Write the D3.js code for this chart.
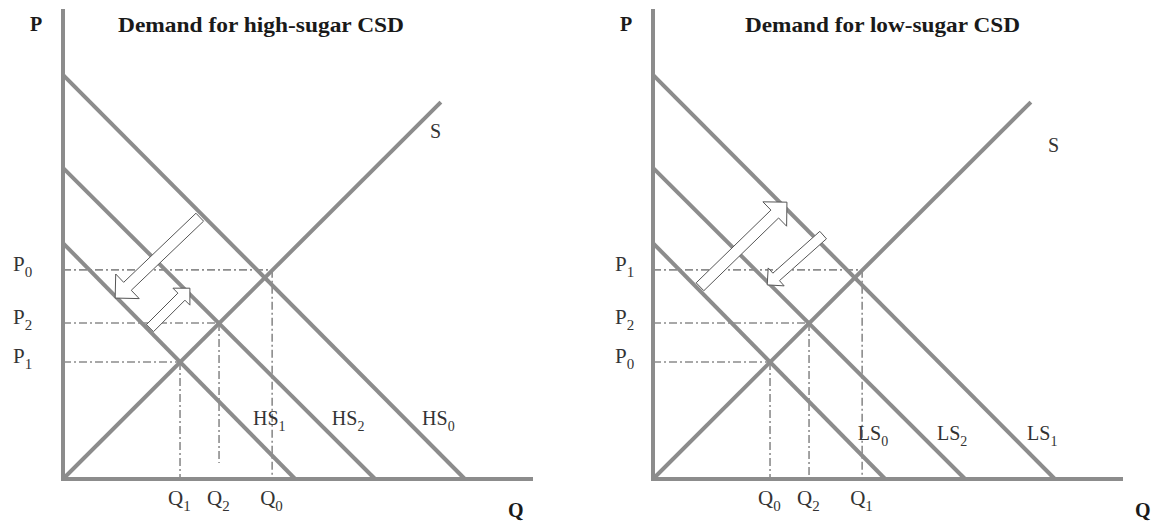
<!DOCTYPE html>
<html>
<head>
<meta charset="utf-8">
<script src="https://cdn.jsdelivr.net/npm/d3@7"></script>
<style>
  body { margin: 0; background: #fff; }
  svg { display: block; }
  text { font-family: "Liberation Serif", "Times New Roman", serif; fill: #333; }
  .title, .axis-name { font-weight: bold; fill: #1a1a1a; }
</style>
</head>
<body>
<div class="chart-container"></div>
<script>
var width = 1160, height = 523;

// chart values (both panels share one unit grid 0..10)
var titles = ['Demand for high-sugar CSD', 'Demand for low-sugar CSD'];
var curveNames = [['HS', 'HS', 'HS'], ['LS', 'LS', 'LS']];   // outer, middle, inner
var curveSubs = [['0', '2', '1'], ['1', '2', '0']];
var demandP = [8.6, 6.62, 5.02];     // price intercepts, outer -> inner
var demandQ = [8.55, 6.64, 4.94];    // quantity intercepts
var supplyEnd = [8.04, 8.02];
var eqQ = [4.45, 3.32, 2.49];        // equilibrium quantity, outer -> inner
var eqP = [4.45, 3.32, 2.49];        // equilibrium price
var priceSubs = [['0', '2', '1'], ['1', '2', '0']];
var qtySubs = [['0', '2', '1'], ['1', '2', '0']];
var dashBottom = [[0, 0.34, 0], [0, 0, 0]];
var arrowTail = [[[2.91, 5.57], [1.85, 3.21]], [[1.0, 4.09], [3.62, 5.19]]];
var arrowTip = [[[1.11, 3.85], [2.70, 4.06]], [[2.85, 5.89], [2.43, 4.13]]];
var arrowKind = ['big', 'small'];

// layout only
var layout = [
    {x0: 63, titleX: 118, titleLen: 286, pX: 13, sDx: -11, sDy: 36, labelP: 1.15},
    {x0: 653, titleX: 745, titleLen: 275, pX: 615, sDx: 17, sDy: 50, labelP: 0.83}
];
var arrowSize = {big: {w: 11, hl: 17, hw: 17}, small: {w: 10, hl: 12, hw: 12}};
var grey = '#8c8c8c';

var svg = d3.select('.chart-container')
    .append('svg')
    .attr('width', width)
    .attr('height', height);

function subText(sel, main, sub, size, subSize) {
    sel.style('font-size', size + 'px');
    sel.append('tspan').text(main);
    sel.append('tspan').attr('dy', 6).style('font-size', subSize + 'px').text(sub);
}

function arrowPath(t, h, s) {
    var dx = h[0] - t[0], dy = h[1] - t[1];
    var len = Math.sqrt(dx * dx + dy * dy);
    var ux = dx / len, uy = dy / len, nx = -uy, ny = ux;
    var bx = h[0] - ux * s.hl, by = h[1] - uy * s.hl;
    var pts = [
        [t[0] + nx * s.w / 2, t[1] + ny * s.w / 2],
        [bx + nx * s.w / 2, by + ny * s.w / 2],
        [bx + nx * s.hw, by + ny * s.hw],
        h,
        [bx - nx * s.hw, by - ny * s.hw],
        [bx - nx * s.w / 2, by - ny * s.w / 2],
        [t[0] - nx * s.w / 2, t[1] - ny * s.w / 2]
    ];
    return 'M' + pts.map(function(p) { return p.join(','); }).join('L') + 'Z';
}

layout.forEach(function(L, i) {
    var x = d3.scaleLinear().domain([0, 10]).range([L.x0, L.x0 + 470]);
    var y = d3.scaleLinear().domain([0, 10]).range([479, 9]);
    var g = svg.append('g');

    // dash-dot guide lines
    eqQ.forEach(function(q, k) {
        g.append('line')
            .attr('x1', x(0)).attr('y1', y(eqP[k]))
            .attr('x2', x(q)).attr('y2', y(eqP[k]))
            .attr('stroke', grey).attr('stroke-width', 1.6)
            .attr('stroke-dasharray', '8,3,2,3');
        g.append('line')
            .attr('x1', x(q)).attr('y1', y(eqP[k]))
            .attr('x2', x(q)).attr('y2', y(dashBottom[i][k]))
            .attr('stroke', grey).attr('stroke-width', 1.6)
            .attr('stroke-dasharray', '8,3,2,3');
    });

    // demand curves
    demandP.forEach(function(p, k) {
        g.append('line')
            .attr('x1', x(0)).attr('y1', y(p))
            .attr('x2', x(demandQ[k])).attr('y2', y(0))
            .attr('stroke', grey).attr('stroke-width', 4);
        var qAt = demandQ[k] * (1 - L.labelP / p);
        g.append('text')
            .attr('x', x(qAt) + 11).attr('y', y(L.labelP))
            .call(subText, curveNames[i][k], curveSubs[i][k], 20, 14);
    });

    // supply
    g.append('line')
        .attr('x1', x(0)).attr('y1', y(0))
        .attr('x2', x(supplyEnd[0])).attr('y2', y(supplyEnd[1]))
        .attr('stroke', grey).attr('stroke-width', 4);
    g.append('text')
        .attr('x', x(supplyEnd[0]) + L.sDx).attr('y', y(supplyEnd[1]) + L.sDy)
        .style('font-size', '20px').text('S');

    // axes
    g.append('line')
        .attr('x1', x(0)).attr('y1', y(10))
        .attr('x2', x(0)).attr('y2', y(0) + 2)
        .attr('stroke', grey).attr('stroke-width', 4);
    g.append('line')
        .attr('x1', x(0) - 2).attr('y1', y(0))
        .attr('x2', x(10)).attr('y2', y(0))
        .attr('stroke', grey).attr('stroke-width', 4);

    // arrows
    arrowTail[i].forEach(function(t, k) {
        var tp = [x(t[0]), y(t[1])];
        var hp = [x(arrowTip[i][k][0]), y(arrowTip[i][k][1])];
        g.append('path')
            .attr('d', arrowPath(tp, hp, arrowSize[arrowKind[k]]))
            .attr('fill', '#fff')
            .attr('stroke', '#555')
            .attr('stroke-width', 1);
    });

    // price / quantity labels
    eqP.forEach(function(p, k) {
        g.append('text')
            .attr('x', L.pX).attr('y', y(p) + 1)
            .call(subText, 'P', priceSubs[i][k], 21, 15);
        g.append('text')
            .attr('x', x(eqQ[k]) - 12).attr('y', 505)
            .call(subText, 'Q', qtySubs[i][k], 21, 15);
    });

    // axis names and title
    g.append('text').attr('class', 'axis-name')
        .attr('x', x(0) - 33).attr('y', 31)
        .style('font-size', '20px').text('P');
    g.append('text').attr('class', 'axis-name')
        .attr('x', x(10) + (i === 0 ? -25 : 12)).attr('y', 517)
        .style('font-size', '20px').text('Q');
    g.append('text').attr('class', 'title')
        .attr('x', L.titleX).attr('y', 32)
        .attr('textLength', L.titleLen)
        .attr('lengthAdjust', 'spacingAndGlyphs')
        .style('font-size', '21px')
        .text(titles[i]);
});
</script>
</body>
</html>
